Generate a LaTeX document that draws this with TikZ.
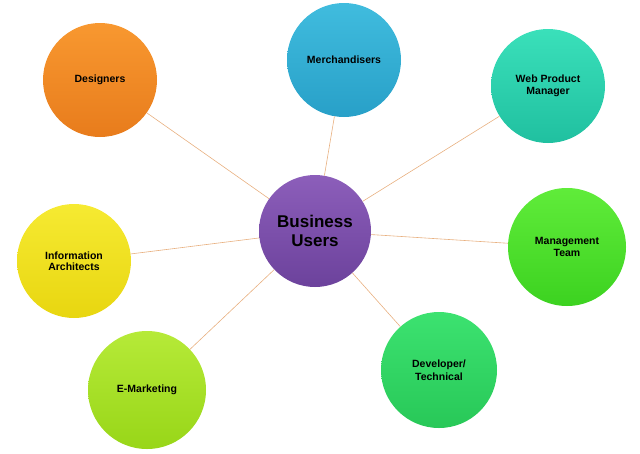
\documentclass[tikz,border=0pt]{standalone}
\usepackage{fontspec}
\setmainfont{Liberation Sans}
\usepackage{tikz}
\usetikzlibrary{shadows}

\definecolor{linkcol}{RGB}{232,176,128}

\begin{document}
\begin{tikzpicture}[
			x=1pt, y=-1pt,
			font=\bfseries\fontsize{10.5}{11.5}\selectfont,
			bubble/.style={
				circle,
				minimum size=#1,
				inner sep=0pt,
				align=center,
				draw=none
			},
			bubble/.default=114pt,
			link/.style={draw=linkcol, line width=0.6pt}
			]
			\useasboundingbox (0,0) rectangle (640,453);
			
			% -------------------------------
			% CENTRO
			% -------------------------------
			\node[bubble=112pt, top color={rgb,255:red,140;green,94;blue,186}, bottom color={rgb,255:red,108;green,66;blue,156},
				font=\bfseries\fontsize{17}{19}\selectfont] (bu) at (315,231) {Business\\Users};
			
			% -------------------------------
			% PERIFERIA
			% -------------------------------
			\node[bubble, top color={rgb,255:red,248;green,152;blue,48}, bottom color={rgb,255:red,232;green,124;blue,28}] (des) at (100,80) {Designers};
			\node[bubble, top color={rgb,255:red,64;green,188;blue,222}, bottom color={rgb,255:red,40;green,160;blue,200}] (mer) at (344,60) {Merchandisers};
			\node[bubble, top color={rgb,255:red,58;green,224;blue,186}, bottom color={rgb,255:red,32;green,192;blue,160}] (web) at (548,86) {Web Product\\Manager};
			\node[bubble=118pt, top color={rgb,255:red,96;green,236;blue,58}, bottom color={rgb,255:red,60;green,210;blue,32}] (mgt) at (567,247) {Management\\Team};
			\node[bubble=116pt, top color={rgb,255:red,60;green,226;blue,112}, bottom color={rgb,255:red,40;green,200;blue,88}] (dev) at (439,370) {Developer/\\[2pt]Technical};
			\node[bubble=118pt, top color={rgb,255:red,182;green,234;blue,56}, bottom color={rgb,255:red,152;green,214;blue,24}] (emk) at (147,390) {E-Marketing};
			\node[bubble, top color={rgb,255:red,246;green,234;blue,50}, bottom color={rgb,255:red,232;green,214;blue,16}] (inf) at (74,261) {Information\\Architects};
			
			% -------------------------------
			% LINEAS
			% -------------------------------
			\draw[link] (bu) -- (des);
			\draw[link] (bu) -- (mer);
			\draw[link] (bu) -- (web);
			\draw[link] (bu) -- (mgt);
			\draw[link] (bu) -- (dev);
			\draw[link] (bu) -- (emk);
			\draw[link] (bu) -- (inf);
			
		\end{tikzpicture}
\end{document}
